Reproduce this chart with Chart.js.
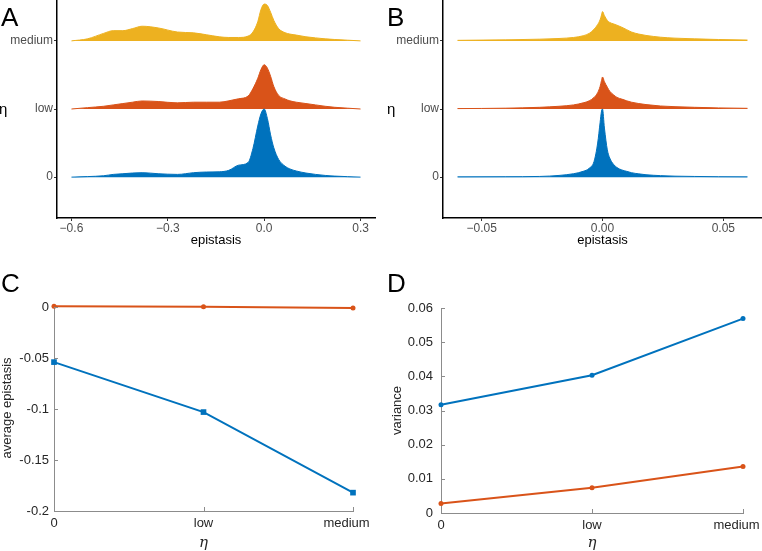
<!DOCTYPE html>
<html>
<head>
<meta charset="utf-8">
<script src="https://cdn.jsdelivr.net/npm/chart.js@4.4.0/dist/chart.umd.min.js"></script>
<style>
  body { margin: 0; background: #fff; width: 762px; height: 551px; position: relative; overflow: hidden;
         font-family: "Liberation Sans", Arial, Helvetica, sans-serif; }
  .pane { position: absolute; }
  .lbl { position: absolute; font-size: 26px; line-height: 1; color: #000; }
  .eta { position: absolute; font-size: 15px; line-height: 1; color: #000; }
</style>
</head>
<body>
<div class="pane" style="left:0;top:0;width:380px;height:265px"><canvas id="graficoA" width="380" height="265"></canvas></div>
<div class="pane" style="left:380px;top:0;width:382px;height:265px"><canvas id="graficoB" width="382" height="265"></canvas></div>
<div class="pane" style="left:0;top:265px;width:380px;height:286px"><canvas id="graficoC" width="380" height="286"></canvas></div>
<div class="pane" style="left:380px;top:265px;width:382px;height:286px"><canvas id="graficoD" width="382" height="286"></canvas></div>

<div class="lbl" style="left:1px;top:4px">A</div>
<div class="lbl" style="left:387px;top:4px">B</div>
<div class="lbl" style="left:1px;top:270px">C</div>
<div class="lbl" style="left:387px;top:270px">D</div>
<div class="eta" style="left:-1px;top:101px">η</div>
<div class="eta" style="left:387px;top:101px">η</div>

<script>
// niveles de eta (filas de las crestas y eje x de C y D)
const etaLevels = ['0', 'low', 'medium'];

// Panel A: densidad de epistasis (altura relativa a la separación entre filas)
const xA = [-0.6, -0.55, -0.5, -0.47, -0.44, -0.41, -0.38, -0.33, -0.27, -0.22, -0.18, -0.14, -0.11, -0.08,
            -0.05, -0.035, -0.02, -0.01, 0, 0.01, 0.02, 0.03, 0.045, 0.065, 0.08, 0.1, 0.13, 0.16, 0.19, 0.22, 0.26, 0.3];
const densA0 = [0, 0.008, 0.02, 0.04, 0.05, 0.06, 0.065, 0.05, 0.04, 0.065, 0.075, 0.078, 0.1, 0.175,
                0.215, 0.42, 0.75, 0.93, 1.0, 0.86, 0.62, 0.43, 0.26, 0.16, 0.12, 0.09, 0.06, 0.04, 0.025, 0.015, 0.007, 0];
const densALow = [0, 0.02, 0.04, 0.06, 0.08, 0.1, 0.118, 0.11, 0.09, 0.1, 0.1, 0.1, 0.12, 0.15,
                  0.19, 0.3, 0.45, 0.58, 0.65, 0.6, 0.48, 0.33, 0.2, 0.147, 0.12, 0.1, 0.08, 0.06, 0.04, 0.025, 0.012, 0];
const densAMed = [0, 0.03, 0.11, 0.15, 0.15, 0.18, 0.215, 0.19, 0.13, 0.118, 0.09, 0.06, 0.05, 0.05,
                  0.07, 0.13, 0.28, 0.46, 0.54, 0.52, 0.42, 0.3, 0.18, 0.12, 0.1, 0.085, 0.06, 0.044, 0.03, 0.02, 0.01, 0];

// Panel B
const xB = [-0.06, -0.04, -0.026, -0.018, -0.012, -0.008, -0.0055, -0.0035, -0.002, -0.001, -0.0004, 0, 0.0008,
            0.002, 0.003, 0.0045, 0.006, 0.008, 0.01, 0.012, 0.015, 0.018, 0.024, 0.03, 0.038, 0.048, 0.06];
const densB0 = [0.004, 0.006, 0.01, 0.025, 0.05, 0.085, 0.13, 0.23, 0.5, 0.8, 0.97, 1.0, 0.72,
                0.4, 0.28, 0.19, 0.14, 0.105, 0.085, 0.065, 0.048, 0.035, 0.022, 0.014, 0.01, 0.006, 0.004];
const densBLow = [0.006, 0.012, 0.025, 0.04, 0.06, 0.09, 0.12, 0.17, 0.24, 0.33, 0.42, 0.47, 0.4,
                  0.32, 0.26, 0.21, 0.17, 0.145, 0.12, 0.1, 0.08, 0.065, 0.044, 0.034, 0.025, 0.016, 0.01];
const densBMed = [0.008, 0.015, 0.025, 0.035, 0.05, 0.075, 0.11, 0.17, 0.24, 0.31, 0.38, 0.43, 0.37,
                  0.3, 0.27, 0.25, 0.23, 0.2, 0.165, 0.13, 0.1, 0.08, 0.054, 0.04, 0.03, 0.02, 0.012];

// Panel C: epistasis media
const avgEpiOrange = [0.0007, 0.0002, -0.001];
const avgEpiBlue = [-0.054, -0.103, -0.182];

// Panel D: varianza
const varBlue = [0.0317, 0.0403, 0.0569];
const varOrange = [0.0028, 0.0074, 0.0136];

const azul = '#0072BD';
const naranja = '#D95319';
const amarillo = '#EDB120';
const fuente = '"Liberation Sans", Arial, Helvetica, sans-serif';

// marcas de eje hacia dentro (estilo MATLAB)
const innerTicks = {
    id: 'innerTicks',
    afterDraw(chart) {
        const { ctx, chartArea: a, scales } = chart;
        ctx.save();
        ctx.strokeStyle = '#8c8c8c';
        ctx.lineWidth = 1;
        scales.x.ticks.forEach((t, i) => {
            const px = Math.round(scales.x.getPixelForTick(i)) + 0.5;
            ctx.beginPath(); ctx.moveTo(px, a.bottom); ctx.lineTo(px, a.bottom - 4); ctx.stroke();
        });
        scales.y.ticks.forEach(t => {
            const py = Math.round(scales.y.getPixelForValue(t.value)) + 0.5;
            ctx.beginPath(); ctx.moveTo(a.left, py); ctx.lineTo(a.left + 4, py); ctx.stroke();
        });
        ctx.restore();
    }
};

function cresta(xs, hs, fila, color) {
    return {
        data: xs.map((x, i) => ({ x: x, y: fila + hs[i] })),
        borderColor: color,
        backgroundColor: color,
        borderWidth: 1,
        pointRadius: 0,
        fill: { value: fila },
        cubicInterpolationMode: 'monotone'
    };
}

function opcionesCrestas(xmin, xmax, xticks, dec, yWidth, padRight) {
    return {
        responsive: false,
        animation: false,
        layout: { autoPadding: false, padding: { top: 0, right: padRight, left: 0, bottom: 0 } },
        plugins: { legend: { display: false }, tooltip: { enabled: false } },
        scales: {
            x: {
                type: 'linear', min: xmin, max: xmax,
                afterBuildTicks: s => { s.ticks = xticks.map(v => ({ value: v })); },
                afterFit: s => { s.height = 47; s.paddingLeft = 0; s.paddingRight = 0; },
                ticks: { color: '#4d4d4d', padding: 0, maxRotation: 0,
                         font: { family: fuente, size: 12 },
                         callback: v => v.toFixed(dec).replace('-', '\u2212') },
                grid: { drawOnChartArea: false, drawTicks: true, tickLength: 3, color: '#333' },
                border: { display: true, color: '#000', width: 1.5 },
                title: { display: true, text: 'epistasis', color: '#000',
                         font: { family: fuente, size: 13 }, padding: { top: 0, bottom: 17 } }
            },
            y: {
                type: 'linear', min: -0.6, max: 2.6,
                afterBuildTicks: s => { s.ticks = [0, 1, 2].map(v => ({ value: v })); },
                afterFit: s => { s.width = yWidth; s.paddingTop = 0; s.paddingBottom = 0; },
                ticks: { color: '#4d4d4d', padding: 1, font: { family: fuente, size: 12 },
                         callback: v => etaLevels[v] },
                grid: { drawOnChartArea: false, drawTicks: true, tickLength: 3, color: '#333' },
                border: { display: true, color: '#000', width: 1.5 }
            }
        }
    };
}

new Chart(document.getElementById('graficoA').getContext('2d'), {
    type: 'line',
    data: {
        datasets: [
            cresta(xA, densA0, 0, azul),
            cresta(xA, densALow, 1, naranja),
            cresta(xA, densAMed, 2, amarillo)
        ]
    },
    options: opcionesCrestas(-0.645, 0.345, [-0.6, -0.3, 0, 0.3], 1, 57, 5)
});

new Chart(document.getElementById('graficoB').getContext('2d'), {
    type: 'line',
    data: {
        datasets: [
            cresta(xB, densB0, 0, azul),
            cresta(xB, densBLow, 1, naranja),
            cresta(xB, densBMed, 2, amarillo)
        ]
    },
    options: opcionesCrestas(-0.066, 0.066, [-0.05, 0, 0.05], 2, 63, 0)
});

function serie(values, color, estilo, radio) {
    return {
        data: values,
        borderColor: color,
        backgroundColor: color,
        borderWidth: 2,
        pointStyle: estilo,
        pointRadius: radio,
        pointBorderWidth: 0,
        clip: false,
        tension: 0
    };
}

function opcionesLineas(ymin, ymax, yticks, ytitle, yWidth, xHeight, pad, yPad, titlePad) {
    return {
        responsive: false,
        animation: false,
        layout: { autoPadding: false, padding: pad },
        plugins: { legend: { display: false }, tooltip: { enabled: false } },
        scales: {
            x: {
                type: 'category', offset: false,
                afterFit: s => { s.height = xHeight; s.paddingLeft = 0; s.paddingRight = 0; },
                ticks: { color: '#262626', padding: 5, maxRotation: 0, autoSkip: false,
                         font: { family: fuente, size: 13 },
                         // MATLAB desplaza la última etiqueta hacia dentro
                         callback: (v, i) => i === etaLevels.length - 1 ? etaLevels[i] + '\u2003' : etaLevels[i] },
                grid: { display: false, drawTicks: false },
                border: { display: true, color: '#8c8c8c', width: 1 },
                title: { display: true, text: 'η', color: '#262626',
                         font: { family: '"DejaVu Serif", "Liberation Serif", serif', size: 15, style: 'italic', lineHeight: 1 },
                         padding: { top: 0, bottom: 0 } }
            },
            y: {
                type: 'linear', min: ymin, max: ymax,
                afterBuildTicks: s => { s.ticks = yticks.map(v => ({ value: v })); },
                afterFit: s => { s.width = yWidth; s.paddingTop = 0; s.paddingBottom = 0; },
                ticks: { color: '#262626', padding: yPad, font: { family: fuente, size: 13 },
                         callback: v => String(+v.toFixed(2)) },
                grid: { display: false, drawTicks: false },
                border: { display: true, color: '#8c8c8c', width: 1 },
                title: { display: true, text: ytitle, color: '#262626',
                         font: { family: fuente, size: 13 }, padding: { top: titlePad, bottom: 0 } }
            }
        }
    };
}

new Chart(document.getElementById('graficoC').getContext('2d'), {
    type: 'line',
    data: {
        labels: etaLevels,
        datasets: [
            serie(avgEpiOrange, naranja, 'circle', 2.5),
            serie(avgEpiBlue, azul, 'rect', 4)
        ]
    },
    options: opcionesLineas(-0.2, 0.002, [-0.2, -0.15, -0.1, -0.05, 0], 'average epistasis', 54, 40,
                            { top: 40, right: 27, left: 0, bottom: 0 }, 5, 0),
    plugins: [innerTicks]
});

new Chart(document.getElementById('graficoD').getContext('2d'), {
    type: 'line',
    data: {
        labels: etaLevels,
        datasets: [
            serie(varBlue, azul, 'circle', 2.5),
            serie(varOrange, naranja, 'circle', 2.5)
        ]
    },
    options: opcionesLineas(0, 0.06, [0, 0.01, 0.02, 0.03, 0.04, 0.05, 0.06], 'variance', 61, 38,
                            { top: 43, right: 19, left: 0, bottom: 0 }, 8, 10),
    plugins: [innerTicks]
});
</script>
</body>
</html>
